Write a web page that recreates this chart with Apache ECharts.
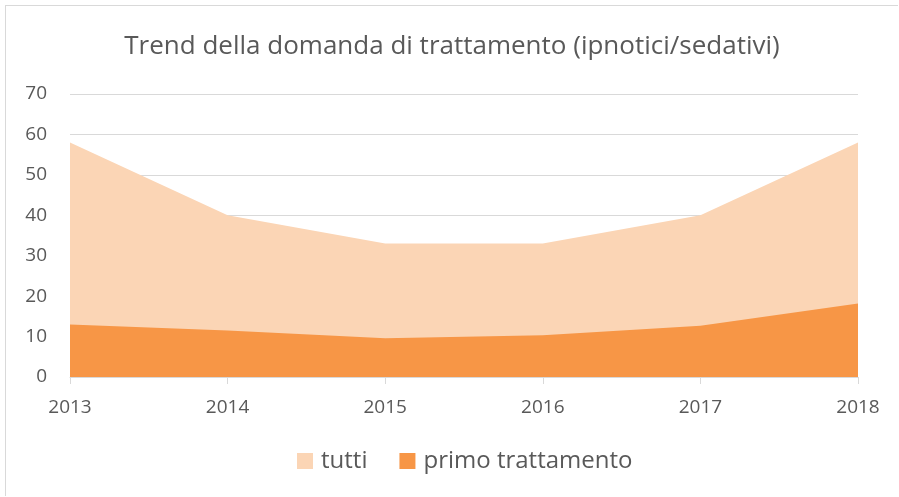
<!DOCTYPE html>
<html>
<head>
<meta charset="utf-8">
<style>
  html, body { margin: 0; padding: 0; background: #fff; }
  #main { position: absolute; left: 5px; top: 5px; width: 893px; height: 491px; border: 1px solid #d9d9d9; border-right: none; border-bottom: none; box-sizing: border-box; }
</style>
<script src="https://cdn.jsdelivr.net/npm/echarts@6/dist/echarts.min.js"></script>
</head>
<body>
<div id="main"></div>
<script>
var years = ['2013', '2014', '2015', '2016', '2017', '2018']
var tutti = [58, 40, 33, 33, 40, 58]
var primoTrattamento = [13, 11.5, 9.6, 10.3, 12.7, 18.2]

var chart = echarts.init(document.getElementById('main'))
var textColor = '#595959'
var font = 'Open Sans'

chart.setOption({
  animation: false,
  title: {
    text: 'Trend della domanda di trattamento (ipnotici/sedativi)',
    left: 'center',
    top: 23,
    textStyle: { fontFamily: font, fontSize: 26, fontWeight: 'normal', color: textColor }
  },
  legend: {
    bottom: 18,
    left: 286,
    itemWidth: 16,
    itemHeight: 16,
    itemGap: 32,
    icon: 'rect',
    textStyle: { fontFamily: font, fontSize: 24, color: textColor, padding: [0, 0, 0, 3] },
    data: ['tutti', 'primo trattamento']
  },
  grid: { left: 64, right: 40, top: 88, bottom: 119 },
  xAxis: {
    type: 'category',
    data: years,
    boundaryGap: false,
    axisLine: { lineStyle: { color: '#d9d9d9' } },
    axisTick: { show: true, length: 7, lineStyle: { color: '#d9d9d9' } },
    axisLabel: { fontFamily: font, fontSize: 19, color: textColor, margin: 21 }
  },
  yAxis: {
    type: 'value',
    min: 0,
    max: 70,
    interval: 10,
    axisLine: { show: false },
    axisTick: { show: false },
    splitLine: { lineStyle: { color: '#d9d9d9' } },
    axisLabel: { fontFamily: font, fontSize: 19, color: textColor, margin: 23 }
  },
  series: [
    {
      name: 'tutti',
      type: 'line',
      data: tutti,
      symbol: 'none',
      lineStyle: { width: 0 },
      itemStyle: { color: '#fbd5b5' },
      areaStyle: { color: '#fbd5b5', opacity: 1 }
    },
    {
      name: 'primo trattamento',
      type: 'line',
      data: primoTrattamento,
      symbol: 'none',
      lineStyle: { width: 0 },
      itemStyle: { color: '#f79646' },
      areaStyle: { color: '#f79646', opacity: 1 }
    }
  ]
})
</script>
</body>
</html>
